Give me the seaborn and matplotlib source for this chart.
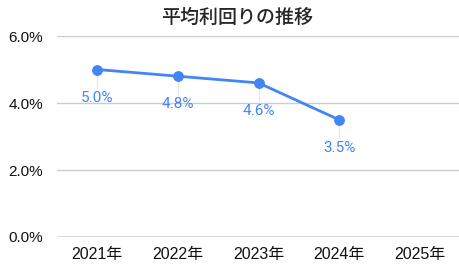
import matplotlib
matplotlib.use("Agg")
import matplotlib.pyplot as plt
import seaborn as sns
import pandas as pd
import numpy as np

years = ["2021年", "2022年", "2023年", "2024年", "2025年"]
values = [5.0, 4.8, 4.6, 3.5, None]
yticks = [0.0, 2.0, 4.0, 6.0]
title = "平均利回りの推移"

sns.set_style("white")
plt.rcParams['font.family'] = ['Liberation Sans', 'Noto Sans CJK JP', 'DejaVu Sans']

df = pd.DataFrame({"year": years, "value": [np.nan if v is None else v for v in values]})
df["x"] = range(len(years))

fig = plt.figure(figsize=(4.6, 2.71), dpi=100)
ax = fig.add_axes([57/460, 34/271, 1 - 57/460, 201/271])

blue = "#4285F4"
for t in yticks:
    ax.axhline(t, color="#333333" if t == 0 else "#cccccc", lw=1, zorder=0)

d = df.dropna()
sns.lineplot(data=d, x="x", y="value", ax=ax, color=blue, lw=2, marker="o",
             markersize=7, markeredgecolor=blue, zorder=3)

for _, r in d.iterrows():
    ax.plot([r.x, r.x], [r.value - 0.12, r.value - 0.55], color="#e6e6e6", lw=1, zorder=1)
    ax.text(r.x, r.value - 0.84, f"{r.value:.1f}%", color=blue, ha="center", va="center",
            fontsize=11, family=['Roboto', 'DejaVu Sans'], zorder=4)

ax.set_xlim(-0.5, len(years) - 0.5)
ax.set_ylim(0, 6)
ax.set_xticks(range(len(years)))
ax.set_xticklabels(years, fontsize=11.5, color="#111111")
ax.set_yticks(yticks)
ax.set_yticklabels([f"{t:.1f}%" for t in yticks], fontsize=11, color="#111111")
ax.tick_params(axis="y", length=0, pad=10)
ax.tick_params(axis="x", length=0, pad=7)
ax.set_xlabel("")
ax.set_ylabel("")
for s in ax.spines.values():
    s.set_visible(False)
fig.text(237/460, 1 - 17/271, title, ha="center", va="center", fontsize=13.7,
         fontweight="medium", family=['Noto Sans CJK JP'])
fig.savefig("out.png", dpi=100)
